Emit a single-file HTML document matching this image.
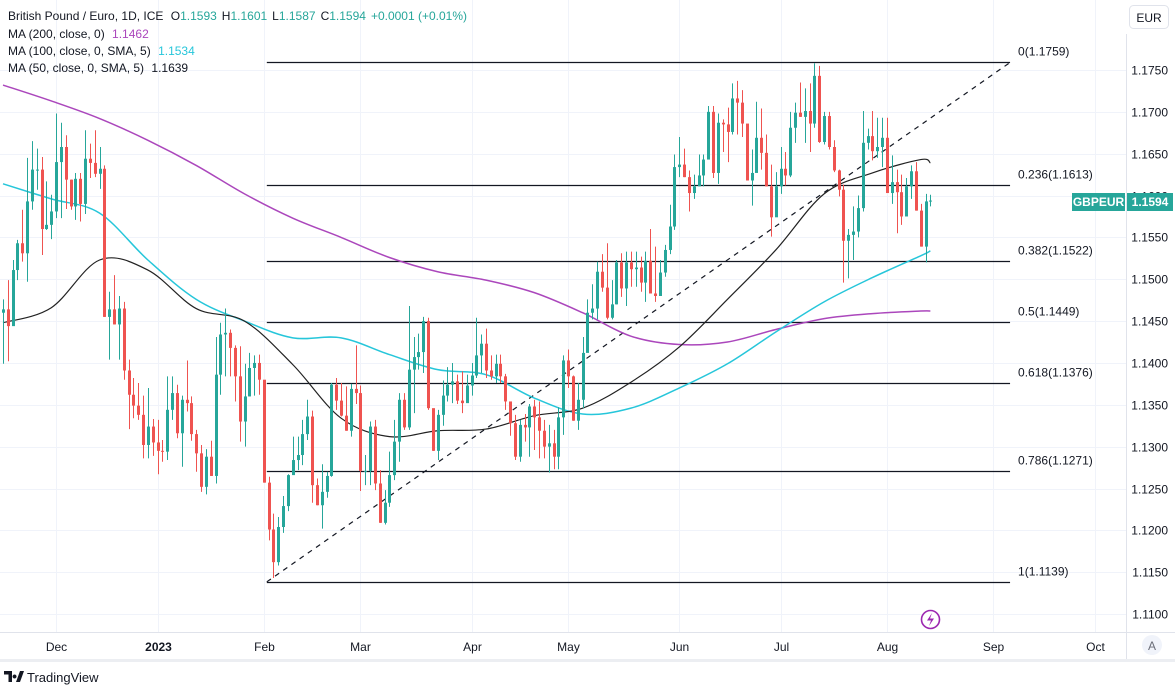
<!DOCTYPE html>
<html><head><meta charset="utf-8"><title>GBPEUR chart</title>
<style>
html,body{margin:0;padding:0;background:#fff;}
svg{display:block;font-family:"Liberation Sans",sans-serif;}
</style></head>
<body>
<svg id="chart" width="1175" height="691" viewBox="0 0 1175 691" xmlns="http://www.w3.org/2000/svg">
  <g id="grid"></g>
  <g id="fib"></g>
  <g id="mas"></g>
  <g id="candles"></g>
  <line x1="0" y1="632.5" x2="1175" y2="632.5" stroke="#e0e3eb"/>
  <line x1="1126.5" y1="34" x2="1126.5" y2="660" stroke="#e0e3eb"/>
  <rect x="0" y="659" width="1175" height="3" fill="#eceef2"/>
  <g id="yaxis"></g>
  <g id="xaxis"></g>
  <g font-size="12" fill="#131722">
    <text x="8" y="20">British Pound / Euro, 1D, ICE <tspan dx="4">O</tspan><tspan fill="#26a69a">1.1593</tspan><tspan dx="5">H</tspan><tspan fill="#26a69a">1.1601</tspan><tspan dx="5">L</tspan><tspan fill="#26a69a">1.1587</tspan><tspan dx="5">C</tspan><tspan fill="#26a69a">1.1594</tspan><tspan dx="5" fill="#26a69a">+0.0001 (+0.01%)</tspan></text>
    <text x="8" y="38">MA (200, close, 0) <tspan dx="4" fill="#ab47bc">1.1462</tspan></text>
    <text x="8" y="55">MA (100, close, 0, SMA, 5) <tspan dx="4" fill="#26c6da">1.1534</tspan></text>
    <text x="8" y="72">MA (50, close, 0, SMA, 5) <tspan dx="4">1.1639</tspan></text>
  </g>
  <g>
    <rect x="1129.5" y="5.5" width="39" height="23" rx="4" fill="#fff" stroke="#e0e3eb"/>
    <text x="1149" y="22" font-size="12" text-anchor="middle" fill="#131722">EUR</text>
  </g>
  <g>
    <circle cx="1152" cy="645" r="10" fill="#f0f3fa"/>
    <text x="1152" y="650" font-size="12" text-anchor="middle" fill="#6a6d78">A</text>
  </g>
  <g>
    <rect x="1072" y="193" width="53" height="18" fill="#26a69a"/>
    <text x="1098.5" y="206" font-size="12" font-weight="bold" text-anchor="middle" fill="#fff">GBPEUR</text>
    <rect x="1127" y="193" width="46" height="18" fill="#26a69a"/>
    <text x="1150" y="206" font-size="12" font-weight="bold" text-anchor="middle" fill="#fff">1.1594</text>
  </g>
  <g>
    <circle cx="930.5" cy="619.5" r="9" fill="#fff" stroke="#9c27b0" stroke-width="1.6"/>
    <path d="M932 613 L927 620.5 L931 620.5 L929 626 L934 618.5 L930 618.5 Z" fill="#9c27b0"/>
  </g>
  <g>
    <path d="M4 671 h8 v11 h-3.5 v-7.5 h-4.5 z M14.5 674.5 a2 2 0 1 0 0.1 0 z M16 682 l4-11 h4 l-4 11 z" fill="#131722"/>
    <text x="27" y="682" font-size="13" fill="#131722">TradingView</text>
  </g>
</svg>
<script>
// ---- data ----
const firstOpen = 1.1460;
const closes = [1.1464,1.1444,1.1511,1.1543,1.1531,1.1593,1.1631,1.1631,1.1560,1.1565,1.1581,1.1640,1.1658,1.1619,1.1587,1.1620,1.1590,1.1644,1.1639,1.1626,1.1632,1.1455,1.1464,1.1446,1.1465,1.1391,1.1362,1.1349,1.1338,1.1302,1.1324,1.1305,1.1295,1.1294,1.1344,1.1364,1.1316,1.1356,1.1352,1.1315,1.1292,1.1252,1.1288,1.1265,1.1386,1.1434,1.1436,1.1418,1.1384,1.1330,1.1360,1.1394,1.1400,1.1380,1.1257,1.1201,1.1162,1.1204,1.1229,1.1266,1.1284,1.1290,1.1315,1.1336,1.1254,1.1230,1.1246,1.1265,1.1374,1.1355,1.1337,1.1319,1.1369,1.1364,1.1271,1.1271,1.1324,1.1256,1.1209,1.1233,1.1266,1.1306,1.1356,1.1323,1.1392,1.1407,1.1413,1.1450,1.1346,1.1295,1.1338,1.1361,1.1374,1.1378,1.1355,1.1352,1.1373,1.1385,1.1409,1.1423,1.1391,1.1384,1.1399,1.1384,1.1354,1.1328,1.1288,1.1326,1.1323,1.1348,1.1335,1.1319,1.1300,1.1304,1.1288,1.1335,1.1403,1.1384,1.1331,1.1356,1.1412,1.1460,1.1465,1.1509,1.1490,1.1454,1.1470,1.1520,1.1489,1.1520,1.1512,1.1514,1.1496,1.1522,1.1483,1.1480,1.1508,1.1535,1.1563,1.1634,1.1637,1.1622,1.1603,1.1611,1.1624,1.1643,1.1700,1.1627,1.1687,1.1685,1.1676,1.1716,1.1711,1.1686,1.1618,1.1627,1.1669,1.1651,1.1611,1.1574,1.1611,1.1632,1.1624,1.1681,1.1699,1.1694,1.1701,1.1686,1.1743,1.1664,1.1695,1.1658,1.1630,1.1607,1.1546,1.1553,1.1557,1.1585,1.1663,1.1671,1.1653,1.1658,1.1669,1.1603,1.1616,1.1604,1.1575,1.1611,1.1629,1.1582,1.1539,1.1593,1.1594];
const highs = [1.1476,1.1499,1.1523,1.1547,1.1583,1.1645,1.1665,1.1656,1.1646,1.1617,1.1601,1.1698,1.1687,1.1672,1.1619,1.1627,1.1627,1.1678,1.1662,1.1678,1.1658,1.1636,1.1485,1.1505,1.1480,1.1473,1.1404,1.1382,1.1376,1.1361,1.1370,1.1333,1.1332,1.1308,1.1384,1.1384,1.1374,1.1361,1.1403,1.1360,1.1320,1.1302,1.1297,1.1307,1.1431,1.1448,1.1465,1.1440,1.1421,1.1420,1.1399,1.1412,1.1409,1.1410,1.1342,1.1264,1.1220,1.1216,1.1241,1.1267,1.1312,1.1312,1.1332,1.1356,1.1343,1.1262,1.1279,1.1270,1.1376,1.1382,1.1376,1.1372,1.1375,1.1421,1.1373,1.1290,1.1330,1.1332,1.1272,1.1248,1.1294,1.1332,1.1364,1.1364,1.1468,1.1431,1.1435,1.1455,1.1454,1.1343,1.1344,1.1379,1.1395,1.1400,1.1386,1.1390,1.1386,1.1400,1.1454,1.1434,1.1441,1.1409,1.1410,1.1410,1.1387,1.1344,1.1338,1.1332,1.1339,1.1351,1.1356,1.1354,1.1332,1.1326,1.1320,1.1347,1.1409,1.1416,1.1385,1.1376,1.1431,1.1476,1.1494,1.1521,1.1530,1.1543,1.1499,1.1523,1.1531,1.1533,1.1533,1.1533,1.1527,1.1533,1.1560,1.1539,1.1523,1.1541,1.1589,1.1649,1.1670,1.1656,1.1630,1.1625,1.1649,1.1649,1.1707,1.1707,1.1698,1.1691,1.1705,1.1734,1.1737,1.1726,1.1683,1.1655,1.1712,1.1704,1.1673,1.1637,1.1628,1.1658,1.1652,1.1700,1.1711,1.1735,1.1728,1.1734,1.1758,1.1755,1.1700,1.1700,1.1666,1.1631,1.1613,1.1560,1.1587,1.1600,1.1701,1.1680,1.1701,1.1693,1.1693,1.1693,1.1648,1.1631,1.1625,1.1621,1.1636,1.1640,1.1590,1.1602,1.1601];
const lows = [1.1399,1.1402,1.1446,1.1499,1.1521,1.1497,1.1583,1.1607,1.1529,1.1559,1.1548,1.1573,1.1573,1.1584,1.1583,1.1571,1.1569,1.1578,1.1621,1.1622,1.1608,1.1455,1.1404,1.1446,1.1404,1.1380,1.1321,1.1334,1.1332,1.1286,1.1286,1.1289,1.1267,1.1282,1.1284,1.1332,1.1310,1.1276,1.1342,1.1307,1.1270,1.1246,1.1243,1.1265,1.1256,1.1362,1.1384,1.1384,1.1354,1.1306,1.1300,1.1360,1.1361,1.1362,1.1257,1.1188,1.1143,1.1158,1.1197,1.1223,1.1268,1.1272,1.1278,1.1308,1.1233,1.1230,1.1202,1.1239,1.1264,1.1344,1.1336,1.1319,1.1312,1.1351,1.1247,1.1254,1.1254,1.1248,1.1209,1.1207,1.1228,1.1260,1.1282,1.1320,1.1320,1.1340,1.1392,1.1388,1.1344,1.1295,1.1284,1.1325,1.1354,1.1352,1.1351,1.1340,1.1355,1.1361,1.1382,1.1388,1.1382,1.1380,1.1376,1.1376,1.1344,1.1313,1.1284,1.1282,1.1306,1.1288,1.1296,1.1286,1.1286,1.1269,1.1273,1.1273,1.1314,1.1370,1.1331,1.1320,1.1346,1.1413,1.1452,1.1452,1.1485,1.1452,1.1452,1.1470,1.1479,1.1468,1.1491,1.1491,1.1485,1.1473,1.1483,1.1473,1.1480,1.1503,1.1530,1.1559,1.1622,1.1622,1.1581,1.1596,1.1611,1.1611,1.1644,1.1621,1.1614,1.1652,1.1640,1.1673,1.1673,1.1670,1.1618,1.1588,1.1628,1.1631,1.1611,1.1551,1.1575,1.1602,1.1612,1.1622,1.1663,1.1694,1.1663,1.1652,1.1681,1.1663,1.1661,1.1655,1.1628,1.1599,1.1496,1.1501,1.1523,1.1550,1.1581,1.1655,1.1642,1.1645,1.1634,1.1603,1.1590,1.1555,1.1565,1.1581,1.1596,1.1582,1.1539,1.1520,1.1587];
// moving averages sampled at bar indices
const maIndex = [0,10,20,30,40,50,60,70,80,90,100,110,120,130,140,150,160,170,180,190,192];
const ma200 = [1.1732,1.1713,1.1692,1.1666,1.1636,1.1602,1.1573,1.1550,1.1526,1.1509,1.1499,1.1484,1.1460,1.1432,1.1422,1.1425,1.1440,1.1453,1.1459,1.1462,1.1462];
const ma100 = [1.1614,1.1596,1.1579,1.1523,1.1476,1.1450,1.1430,1.1430,1.1410,1.1392,1.1386,1.1358,1.1339,1.1346,1.1370,1.1399,1.1437,1.1473,1.1502,1.1528,1.1534];
const ma50 = [1.1448,1.1466,1.1523,1.1511,1.1465,1.1450,1.1398,1.1334,1.1312,1.1319,1.1321,1.1337,1.1346,1.1377,1.1419,1.1476,1.1535,1.1602,1.1627,1.1643,1.1639];
const priceTicks = ["1.1750","1.1700","1.1650","1.1600","1.1550","1.1500","1.1450","1.1400","1.1350","1.1300","1.1250","1.1200","1.1150","1.1100"];
const monthLabels = ["Dec","2023","Feb","Mar","Apr","May","Jun","Jul","Aug","Sep","Oct"];
const monthBars = [11,32,54,74,97,117,140,161,183,205,226];
const fibLevels = [0,0.236,0.382,0.5,0.618,0.786,1];
const fibHigh = 1.1759, fibLow = 1.113851;
const fibLowBar = 54, fibEndBar = 208.5;

// ---- axes ----
const NS = "http://www.w3.org/2000/svg";
function y(p){ return 70 + (1.1750 - p) / 0.005 * 41.85; }
function x(i){ return 3 + i * 4.83; }
function mk(tag, attrs, parent){ const e=document.createElementNS(NS,tag); for(const k in attrs) e.setAttribute(k,attrs[k]); parent.appendChild(e); return e; }

const grid=document.getElementById('grid'), yaxis=document.getElementById('yaxis'), xaxis=document.getElementById('xaxis');
priceTicks.forEach(t=>{
  const yy=Math.round(y(parseFloat(t)))+0.5;
  const g=mk('line',{x1:0,y1:yy,x2:1126,y2:yy,stroke:'#f0f3fa'},grid);
  
  
  const tx=mk('text',{x:1168,y:yy+4,'font-size':12,'text-anchor':'end',fill:'#131722'},yaxis);
  tx.textContent=t;
  
  
});
monthLabels.forEach((m,k)=>{
  const xx=Math.round(x(monthBars[k]))+0.5;
  const g=mk('line',{x1:xx,y1:0,x2:xx,y2:632,stroke:'#f0f3fa'},grid);
  
  
  const tx=mk('text',{x:xx,y:651,'font-size':12,'text-anchor':'middle',fill:'#131722'},xaxis);
  tx.textContent=m;
  if(m==='2023') tx.setAttribute('font-weight','bold');
  
  
});

// ---- fibonacci ----
const fib=document.getElementById('fib');
const fx1=x(fibLowBar)+3, fx2=x(fibEndBar);
fibLevels.forEach(l=>{
  const p=fibHigh-(fibHigh-fibLow)*l;
  const yy=Math.round(y(p))+0.5;
  const ln=mk('line',{x1:fx1,y1:yy,x2:fx2,y2:yy,stroke:'#131722','stroke-width':1.2},fib);
  
  
  const tx=mk('text',{x:fx2+8,y:yy-7,'font-size':12,fill:'#131722'},fib);
  tx.textContent=String(l)+'('+p.toFixed(4)+')';
  
  
});
const trend=mk('line',{x1:fx1,y1:y(fibLow),x2:fx2,y2:y(fibHigh),stroke:'#131722','stroke-width':1.2,'stroke-dasharray':'5,5'},fib);



// ---- moving averages ----
const mas=document.getElementById('mas');
function smooth(vals){
  const pts=maIndex.map((b,k)=>[x(b),y(vals[k])]);
  let d='M'+pts[0][0]+' '+pts[0][1];
  for(let k=0;k<pts.length-1;k++){
    const p0=pts[k-1]||pts[k], p1=pts[k], p2=pts[k+1], p3=pts[k+2]||p2;
    const c1=[p1[0]+(p2[0]-p0[0])/6, p1[1]+(p2[1]-p0[1])/6];
    const c2=[p2[0]-(p3[0]-p1[0])/6, p2[1]-(p3[1]-p1[1])/6];
    d+=' C'+c1[0]+' '+c1[1]+' '+c2[0]+' '+c2[1]+' '+p2[0]+' '+p2[1];
  }
  return d;
}
const l200=mk('path',{d:smooth(ma200),fill:'none',stroke:'#ab47bc','stroke-width':1.5},mas);


const l100=mk('path',{d:smooth(ma100),fill:'none',stroke:'#26c6da','stroke-width':1.5},mas);


const l50=mk('path',{d:smooth(ma50),fill:'none',stroke:'#222','stroke-width':1.2},mas);



// ---- candles ----
const cg=document.getElementById('candles');
closes.forEach((c,i)=>{
  const o = i===0 ? firstOpen : closes[i-1];
  const col = c>=o ? '#26a69a' : '#ef5350';
  const cx = Math.round(x(i));
  const g=mk('g',{},cg);
  
  
  mk('line',{x1:cx+0.5,y1:y(highs[i]),x2:cx+0.5,y2:y(lows[i]),stroke:col,'stroke-width':1},g);
  const top=Math.min(y(o),y(c)), h=Math.max(1,Math.abs(y(o)-y(c)));
  mk('rect',{x:cx-1,y:top,width:3,height:h,fill:col},g);
});
</script>
</body></html>
